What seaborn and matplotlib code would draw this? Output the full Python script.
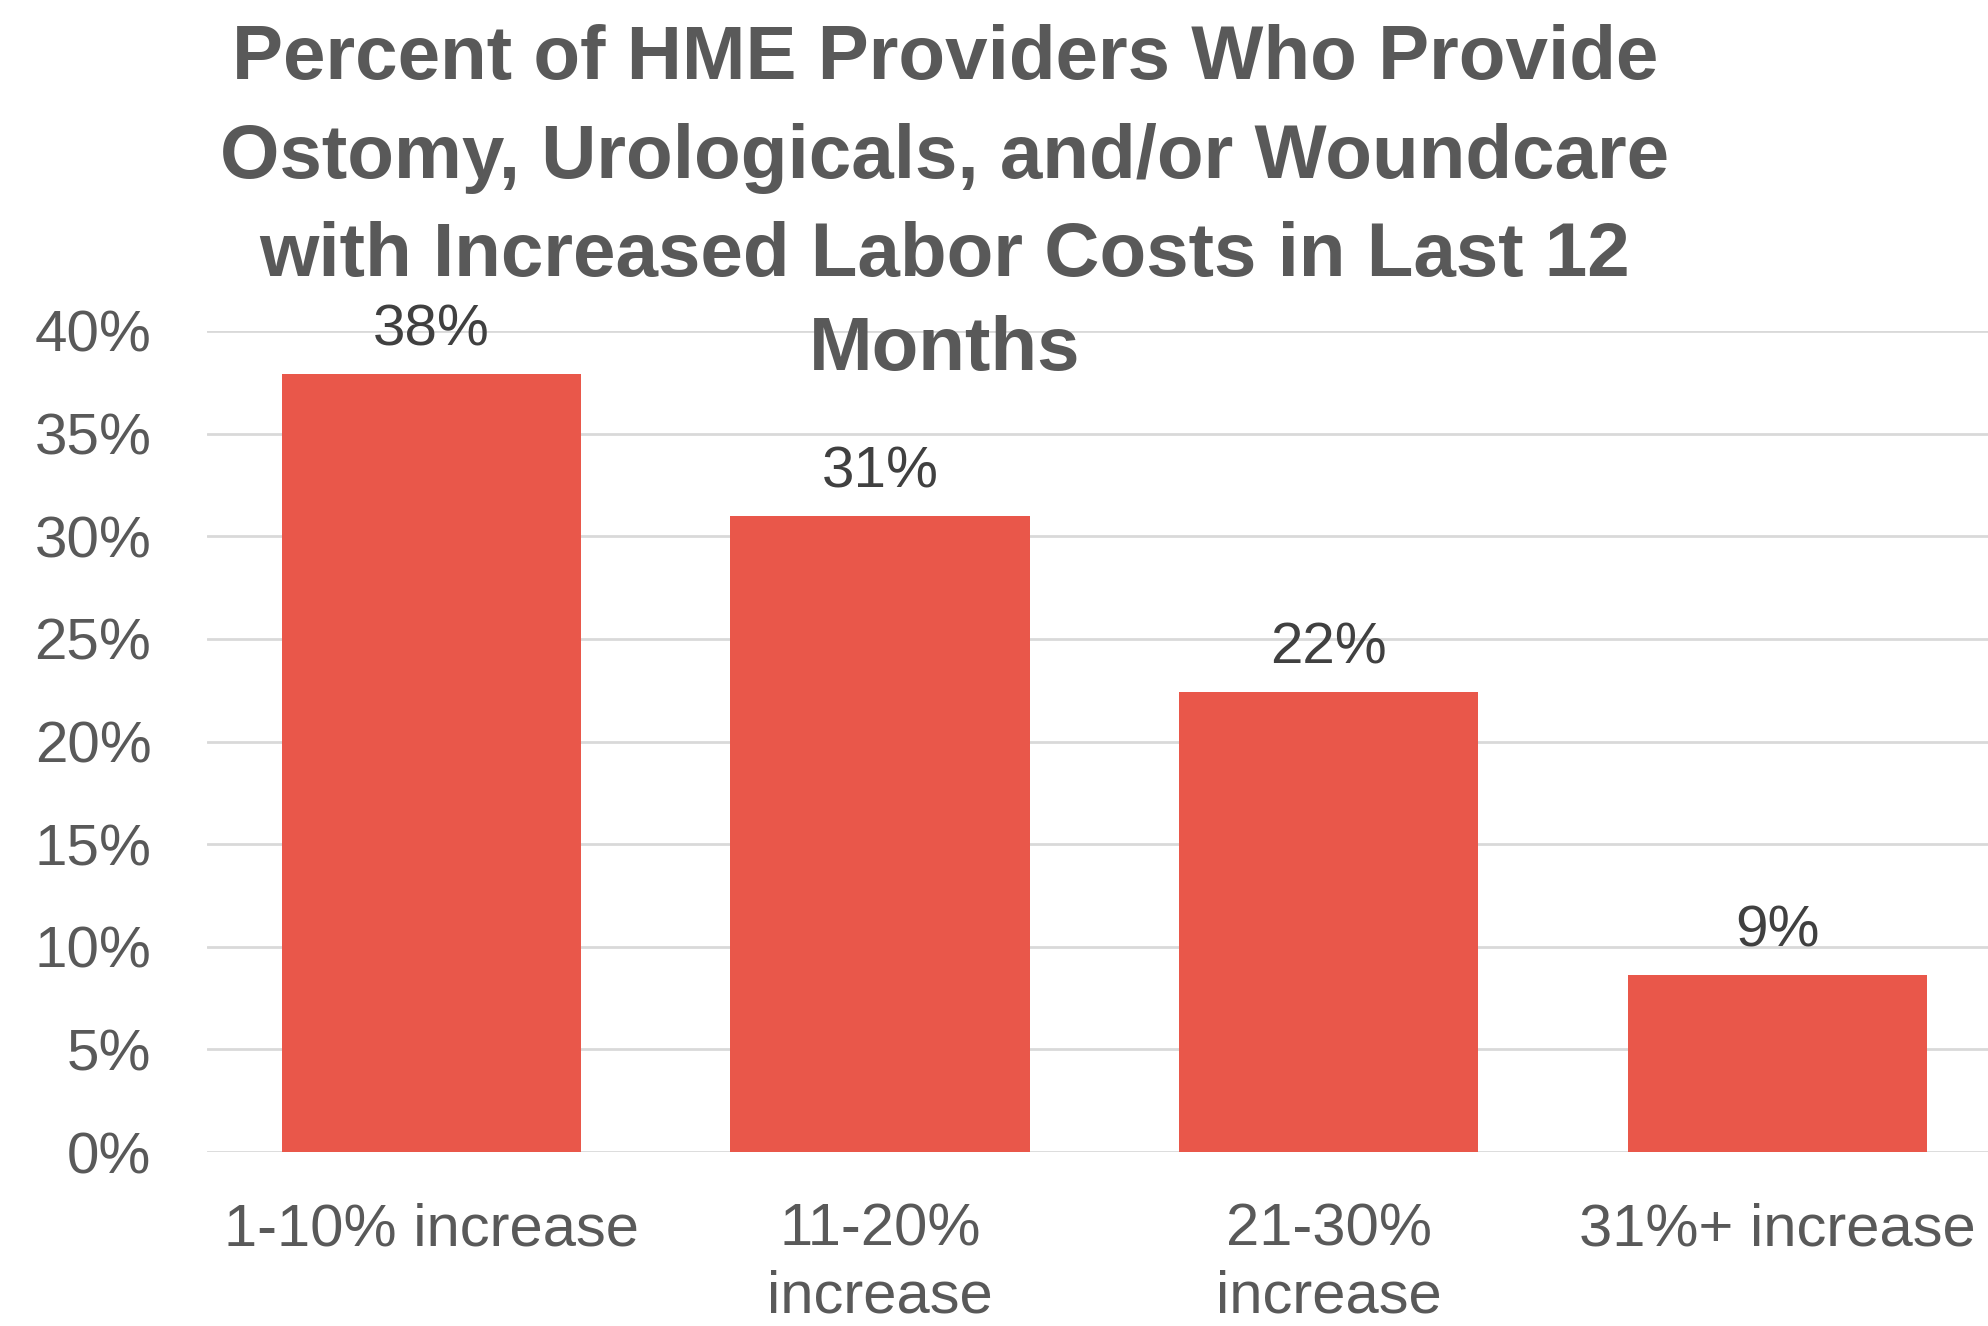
import matplotlib
matplotlib.use("Agg")
import matplotlib.pyplot as plt
import seaborn as sns
import pandas as pd

# Data
categories = ["1-10% increase", "11-20%\nincrease", "21-30%\nincrease", "31%+ increase"]
values = [37.9, 31.0, 22.4, 8.6]
y_ticks = [0, 5, 10, 15, 20, 25, 30, 35, 40]
y_tick_labels = [f"{t}%" for t in y_ticks]
title_lines = ["Percent of HME Providers Who Provide",
               "Ostomy, Urologicals, and/or Woundcare",
               "with Increased Labor Costs in Last 12",
               "Months"]

sns.set_theme(style="white")
plt.rcParams["font.family"] = ["Liberation Sans", "DejaVu Sans"]

W, H = 1988, 1326
DPI = 100
fig = plt.figure(figsize=(W / DPI, H / DPI), dpi=DPI)
fig.patch.set_facecolor("white")

# Axes placement in pixels
left_px, right_px = 207, 1988
bottom_px, top_px = 1152, 331
ax = fig.add_axes([left_px / W, 1 - bottom_px / H,
                   (right_px - left_px) / W, (bottom_px - top_px) / H])

df = pd.DataFrame({"category": categories, "value": values})
sns.barplot(data=df, x="category", y="value", ax=ax, color="#E9574A",
            saturation=1, width=0.667, edgecolor="none")

ax.set_ylim(0, 40)
ax.set_xlim(-0.5, 3.47)
ax.set_yticks(y_ticks)
ax.set_yticklabels(y_tick_labels)
ax.set_xlabel("")
ax.set_ylabel("")

for s in ax.spines.values():
    s.set_visible(False)
ax.yaxis.grid(True, color="#D9D9D9", linewidth=2)
ax.set_axisbelow(True)
ax.tick_params(axis="y", length=0, pad=40, labelsize=42, labelcolor="#595959")
ax.tick_params(axis="x", length=0, pad=36, labelsize=43, labelcolor="#595959")
for lbl in ax.get_xticklabels():
    lbl.set_linespacing(1.3)

# Value labels above bars
for i, v in enumerate(values):
    ax.annotate(f"{round(v):d}%", xy=(i, v), xytext=(0, 12),
                textcoords="offset points", ha="center", va="bottom",
                fontsize=42, color="#404040", clip_on=False)

# Title, one line per text so it wraps like the original
baselines_px = [79, 178, 276, 370]
for line, yb in zip(title_lines, baselines_px):
    fig.text(945 / W, 1 - yb / H, line, ha="center", va="baseline",
             fontsize=55, fontweight="bold", color="#595959")

fig.savefig("out.png", dpi=DPI, facecolor="white")
